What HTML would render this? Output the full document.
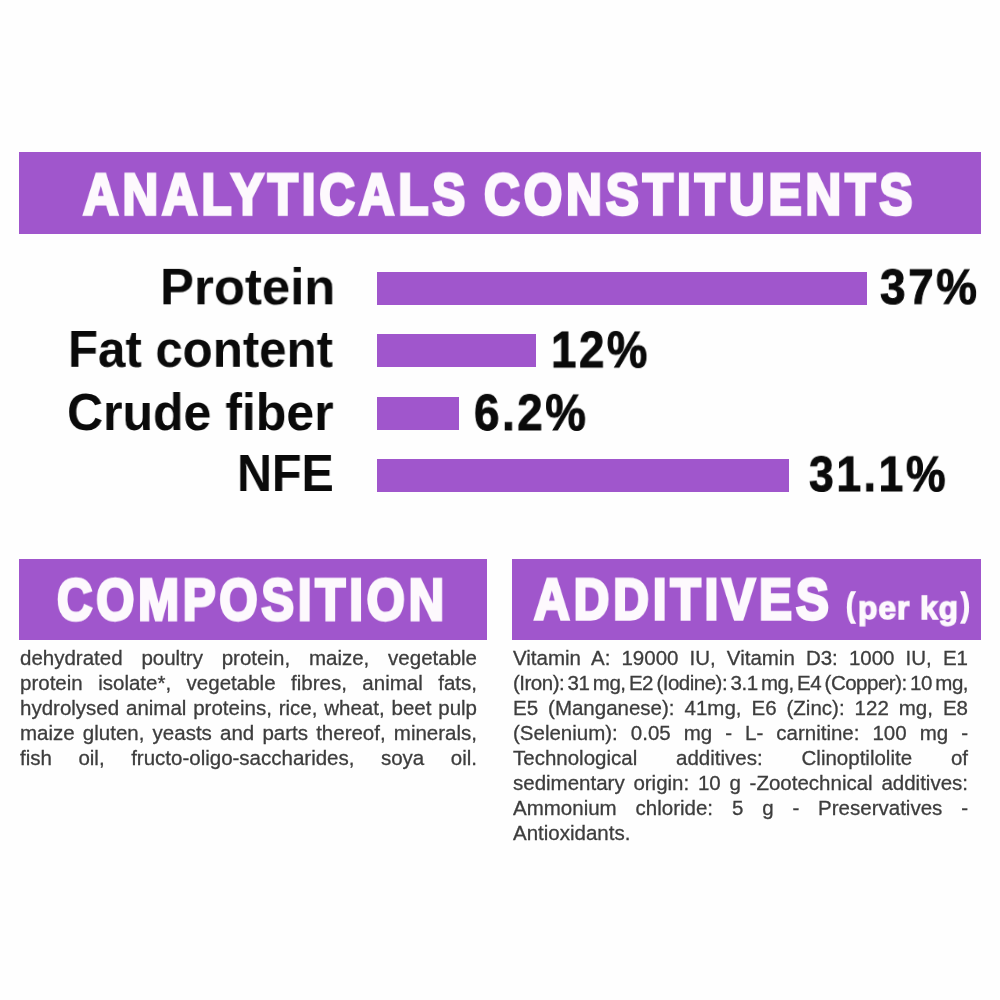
<!DOCTYPE html>
<html>
<head>
<meta charset="utf-8">
<style>
html,body{margin:0;padding:0;background:#fefefe;}
body{width:1000px;height:1000px;position:relative;overflow:hidden;font-family:"Liberation Sans",sans-serif;}
.bar{position:absolute;background:#a056cc;}
.t{position:absolute;will-change:transform;white-space:nowrap;line-height:1;transform-origin:0 0;font-weight:bold;}
.h{color:#fdf9fd;-webkit-text-stroke-color:#fdf9fd;}
.pk{color:#fdf9fd;-webkit-text-stroke-color:#fdf9fd;}
.lab{color:#0a0a0a;}
.val{color:#0a0a0a;-webkit-text-stroke-color:#0a0a0a;}
.txt{position:absolute;will-change:transform;font-size:20.5px;line-height:25px;color:#3d3d3d;-webkit-text-stroke:0.3px #3d3d3d;}
.ln{display:block;height:25px;text-align:justify;text-align-last:justify;white-space:normal;}
</style>
</head>
<body>
<div class="bar" style="left:19px;top:152px;width:962px;height:82px;"></div>
<div class="t h" style="left:83.28px;top:165.16px;font-size:63px;transform:scale(0.7818,0.9298);letter-spacing:5px;-webkit-text-stroke-width:3.5px;">ANALYTICALS</div>
<div class="t h" style="left:484.41px;top:165.16px;font-size:63px;transform:scale(0.786,0.9298);letter-spacing:5px;-webkit-text-stroke-width:3.5px;">CONSTITUENTS</div>

<div class="t lab" style="left:160.06px;top:260.73px;font-size:52px;transform:scale(0.9792,0.9833);;">Protein</div>
<div class="t lab" style="left:68.36px;top:323.24px;font-size:52px;transform:scale(0.9451,0.9944);;">Fat content</div>
<div class="t lab" style="left:66.83px;top:385.5px;font-size:52px;transform:scale(0.9609,1.0);;">Crude fiber</div>
<div class="t lab" style="left:237.01px;top:447.08px;font-size:52px;transform:scale(0.9313,1.0028);;">NFE</div>

<div class="bar" style="left:377px;top:272px;width:490px;height:33px;"></div>
<div class="bar" style="left:377px;top:334px;width:159px;height:33px;"></div>
<div class="bar" style="left:377px;top:397px;width:82px;height:33px;"></div>
<div class="bar" style="left:377px;top:459px;width:412px;height:33px;"></div>

<div class="t val" style="left:879.62px;top:262.12px;font-size:52px;transform:scale(0.8815,0.9474);letter-spacing:3px;-webkit-text-stroke-width:1px;">37%</div>
<div class="t val" style="left:550.97px;top:323.53px;font-size:52px;transform:scale(0.8755,0.9816);letter-spacing:3px;-webkit-text-stroke-width:1px;">12%</div>
<div class="t val" style="left:473.62px;top:386.77px;font-size:52px;transform:scale(0.877,0.9763);letter-spacing:3px;-webkit-text-stroke-width:1px;">6.2%</div>
<div class="t val" style="left:808.64px;top:449.31px;font-size:52px;transform:scale(0.8563,0.9553);letter-spacing:3px;-webkit-text-stroke-width:1px;">31.1%</div>

<div class="bar" style="left:19px;top:559px;width:468px;height:81px;"></div>
<div class="t h" style="left:56.62px;top:569.79px;font-size:63px;transform:scale(0.7771,0.9383);letter-spacing:5px;-webkit-text-stroke-width:3.5px;">COMPOSITION</div>
<div class="txt" style="left:20px;top:644.5px;width:457px;">
<span class="ln">dehydrated poultry protein, maize, vegetable</span>
<span class="ln">protein isolate*, vegetable fibres, animal fats,</span>
<span class="ln">hydrolysed animal proteins, rice, wheat, beet pulp</span>
<span class="ln">maize gluten, yeasts and parts thereof, minerals,</span>
<span class="ln">fish oil, fructo-oligo-saccharides, soya oil.</span>
</div>

<div class="bar" style="left:512px;top:559px;width:469px;height:81px;"></div>
<div class="t h" style="left:533.68px;top:570.3px;font-size:63px;transform:scale(0.784,0.9255);letter-spacing:5px;-webkit-text-stroke-width:3.5px;">ADDITIVES</div>
<div class="t pk" style="left:845.93px;top:588.27px;font-size:33px;transform:scale(0.8182,1.0091);-webkit-text-stroke-width:1.5px;">(</div>
<div class="t pk" style="left:857.94px;top:592.31px;font-size:33px;transform:scale(0.9618,0.9636);letter-spacing:1px;-webkit-text-stroke-width:1.5px;">per kg</div>
<div class="t pk" style="left:960.7px;top:588.31px;font-size:33px;transform:scale(0.8,0.997);-webkit-text-stroke-width:1.5px;">)</div>
<div class="txt" style="left:513px;top:644.5px;width:455px;">
<span class="ln">Vitamin A: 19000 IU, Vitamin D3: 1000 IU, E1</span>
<span class="ln" style="letter-spacing:-0.5px;word-spacing:-3px;">(Iron): 31 mg, E2 (Iodine): 3.1 mg, E4 (Copper): 10 mg,</span>
<span class="ln">E5 (Manganese): 41mg, E6 (Zinc): 122 mg, E8</span>
<span class="ln">(Selenium): 0.05 mg - L- carnitine: 100 mg -</span>
<span class="ln">Technological additives: Clinoptilolite of</span>
<span class="ln">sedimentary origin: 10 g -Zootechnical additives:</span>
<span class="ln">Ammonium chloride: 5 g - Preservatives -</span>
<span class="ln" style="text-align-last:left;">Antioxidants.</span>
</div>
</body>
</html>
